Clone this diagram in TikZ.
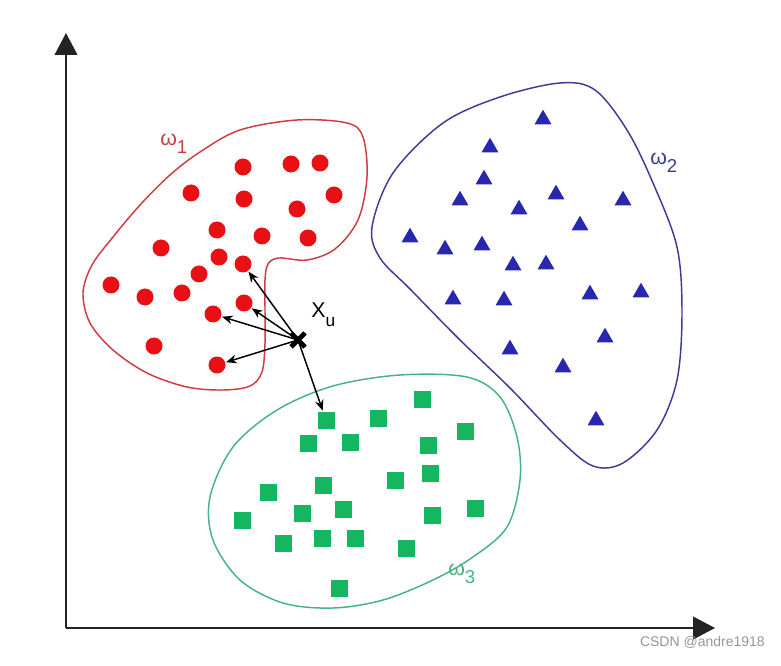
\documentclass[tikz,border=0pt]{standalone}
\usepackage{fontspec}
\setmainfont{Liberation Sans}
\usetikzlibrary{arrows.meta,shapes.geometric}
\definecolor{redc}{RGB}{205,60,65}
\definecolor{redd}{RGB}{232,16,20}
\definecolor{bluec}{RGB}{60,60,150}
\definecolor{blued}{RGB}{40,40,175}
\definecolor{greenc}{RGB}{70,180,130}
\definecolor{greend}{RGB}{20,182,95}
\definecolor{axisc}{RGB}{35,35,35}
\definecolor{wmark}{RGB}{150,150,150}
\begin{document}
\begin{tikzpicture}[x=0.75pt,y=-0.75pt,
  reddot/.style={circle,fill=redd,inner sep=0pt,minimum size=12.75pt},
  bluetri/.style={regular polygon,regular polygon sides=3,fill=blued,inner sep=0pt,minimum size=14.7pt},
  greensq/.style={rectangle,fill=greend,inner sep=0pt,minimum size=12.75pt},
  contour/.style={line width=1.1pt},
  axisline/.style={draw=axisc,line width=1.5pt,-{Triangle[length=16.5pt,width=17pt]}},
  nbarrow/.style={draw=black,line width=1.1pt,-{Stealth[length=8pt,width=6.5pt]},shorten >=0.5pt},
  lbl/.style={anchor=base west,inner sep=0pt}]
\useasboundingbox (0,0) rectangle (781,666);
% axes
\coordinate (o) at (66,628);
\coordinate (ytip) at (66,33);
\coordinate (xtip) at (715,628);
\draw[axisline] (o) -- (ytip);
\draw[axisline] (o) -- (xtip);
% contours
\draw[redc,contour] plot[smooth cycle,tension=0.55] coordinates {
 (297,120) (347,123) (363,137) (367,177) (358,220) (335,249) (307,260) (279,258)
 (268,264) (265,280) (265,310) (265,343) (262,372) (250,386) (223,390) (187,387)
 (147,373) (113,350) (90,323) (83,293) (92,265) (113,237) (140,205) (170,175)
 (200,152) (240,130)};
\draw[bluec,contour] plot[smooth cycle,tension=0.55] coordinates {
 (372,227) (393,173) (443,123) (500,97) (560,83) (595,90) (627,130) (653,183)
 (677,247) (682,313) (677,380) (657,430) (623,463) (593,466) (560,440) (510,388)
 (460,340) (410,289) (380,258)};
\draw[greenc,contour] plot[smooth cycle,tension=0.55] coordinates {
 (277,410) (333,386) (400,375) (467,377) (500,397) (517,437) (520,480) (507,527)
 (473,557) (433,580) (383,600) (333,608) (283,603) (240,580) (213,540) (210,497)
 (233,447)};
% red dots
\foreach \x/\y/\n in {243/167/1,291/164/2,320/163/3,191/193/4,244/199/5,334/195/6,
 297/209/7,217/230/8,262/236/9,308/238/10,161/248/11,219/257/12,243/264/13,199/274/14,
 111/285/15,145/297/16,182/293/17,244/303/18,213/314/19,154/346/20,217/365/21}
  \node[reddot] (r\n) at (\x,\y) {};
% blue triangles
\foreach \x/\y/\n in {543/117/1,490/145/2,484/177/3,556/192/4,460/198/5,519/207/6,
 623/198/7,580/223/8,410/235/9,445/247/10,482/243/11,513/263/12,546/262/13,453/297/14,
 504/298/15,590/292/16,641/290/17,605/335/18,510/347/19,563/365/20,596/418/21}
  \node[bluetri] (b\n) at (\x,\y+2.5) {};
% green squares
\foreach \x/\y/\n in {422/399/1,378/418/2,326/420/3,465/431/4,308/443/5,350/442/6,
 428/445/7,430/473/8,395/480/9,323/485/10,268/492/11,475/508/12,302/513/13,343/509/14,
 432/515/15,242/520/16,283/543/17,322/538/18,355/538/19,406/548/20,339/588/21}
  \node[greensq] (g\n) at (\x,\y) {};
% unknown sample
\coordinate (xu) at (298,340);
\draw[nbarrow] (xu) -- (r13);
\draw[nbarrow] (xu) -- (r18);
\draw[nbarrow] (xu) -- (r19);
\draw[nbarrow] (xu) -- (r21);
\draw[nbarrow] (xu) -- (g3);
\draw[black,line width=3.6pt] ([shift={(-7,-7)}]xu) -- ([shift={(7,7)}]xu);
\draw[black,line width=3.6pt] ([shift={(-7,7)}]xu) -- ([shift={(7,-7)}]xu);
\node[lbl] (xulbl) at (311,318) {\fontsize{16pt}{16pt}\selectfont X\raisebox{-6.5pt}{\fontsize{13pt}{13pt}\selectfont u}};
% class labels
\node[lbl,text=redc] (w1) at (160,146) {\fontsize{16pt}{16pt}\selectfont ω\raisebox{-6pt}{\fontsize{14pt}{14pt}\selectfont 1}};
\node[lbl,text=bluec] (w2) at (650,165) {\fontsize{16pt}{16pt}\selectfont ω\raisebox{-6pt}{\fontsize{14pt}{14pt}\selectfont 2}};
\node[lbl,text=greenc] (w3) at (448,575) {\fontsize{16pt}{16pt}\selectfont ω\raisebox{-6.5pt}{\fontsize{14pt}{14pt}\selectfont 3}};
% watermark
\node[anchor=base east,inner sep=0pt,text=wmark] (wm) at (765,646) {\fontsize{10.5pt}{10.5pt}\selectfont CSDN @andre1918};
\end{tikzpicture}
\end{document}
